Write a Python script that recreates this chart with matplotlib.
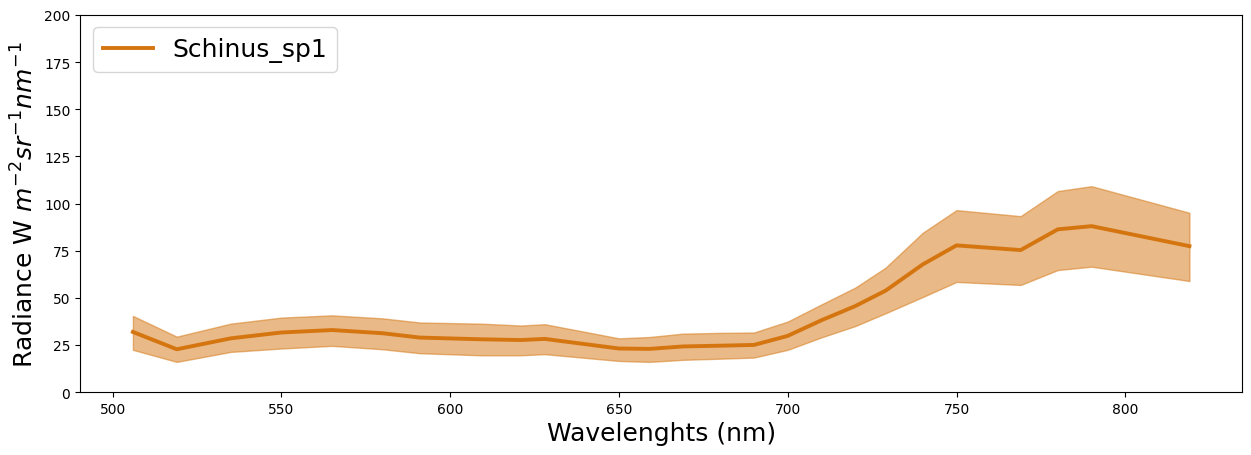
import numpy as np
import matplotlib.pyplot as plt

# Wavelengths (nm) and mean radiance with +/- band
wavelengths = [506, 519, 535, 550, 565, 580, 591, 609, 621, 628, 650, 659, 669,
               680, 690, 700, 710, 720, 729, 740, 750, 769, 780, 790, 819]
mean_rad = [31.9, 22.7, 28.5, 31.6, 32.9, 31.2, 28.9, 28.0, 27.6, 28.2, 23.1, 22.9, 24.2,
            24.6, 25.0, 29.8, 38.1, 45.6, 53.8, 67.7, 77.8, 75.3, 86.3, 88.0, 77.4]
upper_rad = [40.4, 29.4, 36.3, 39.5, 40.7, 39.1, 36.9, 36.3, 35.3, 36.0, 28.5, 29.2, 31.0,
             31.4, 31.6, 37.4, 46.5, 55.4, 66.0, 84.5, 96.5, 93.3, 106.6, 109.2, 95.1]
lower_rad = [22.4, 16.0, 21.3, 23.1, 24.5, 22.7, 20.6, 19.5, 19.5, 20.1, 16.5, 16.0, 17.1,
             17.7, 18.3, 22.4, 29.0, 35.0, 41.8, 50.4, 58.4, 56.8, 64.7, 66.5, 58.9]

color = '#d47510'

fig = plt.figure(figsize=(12.51, 4.56), dpi=100)
ax = fig.add_axes([0.064, 0.138, 0.929, 0.827])

ax.fill_between(wavelengths, lower_rad, upper_rad, color=color, alpha=0.5)
ax.plot(wavelengths, mean_rad, color=color, linewidth=2.8, label='Schinus_sp1')

ax.set_ylim(0, 200)
ax.set_xlabel('Wavelenghts (nm)', fontsize=18)
ax.set_ylabel('Radiance W $m^{-2} sr^{-1} nm^{-1}$', fontsize=18)
ax.legend(loc='upper left', fontsize=18)

fig.savefig('out.png', dpi=100)
